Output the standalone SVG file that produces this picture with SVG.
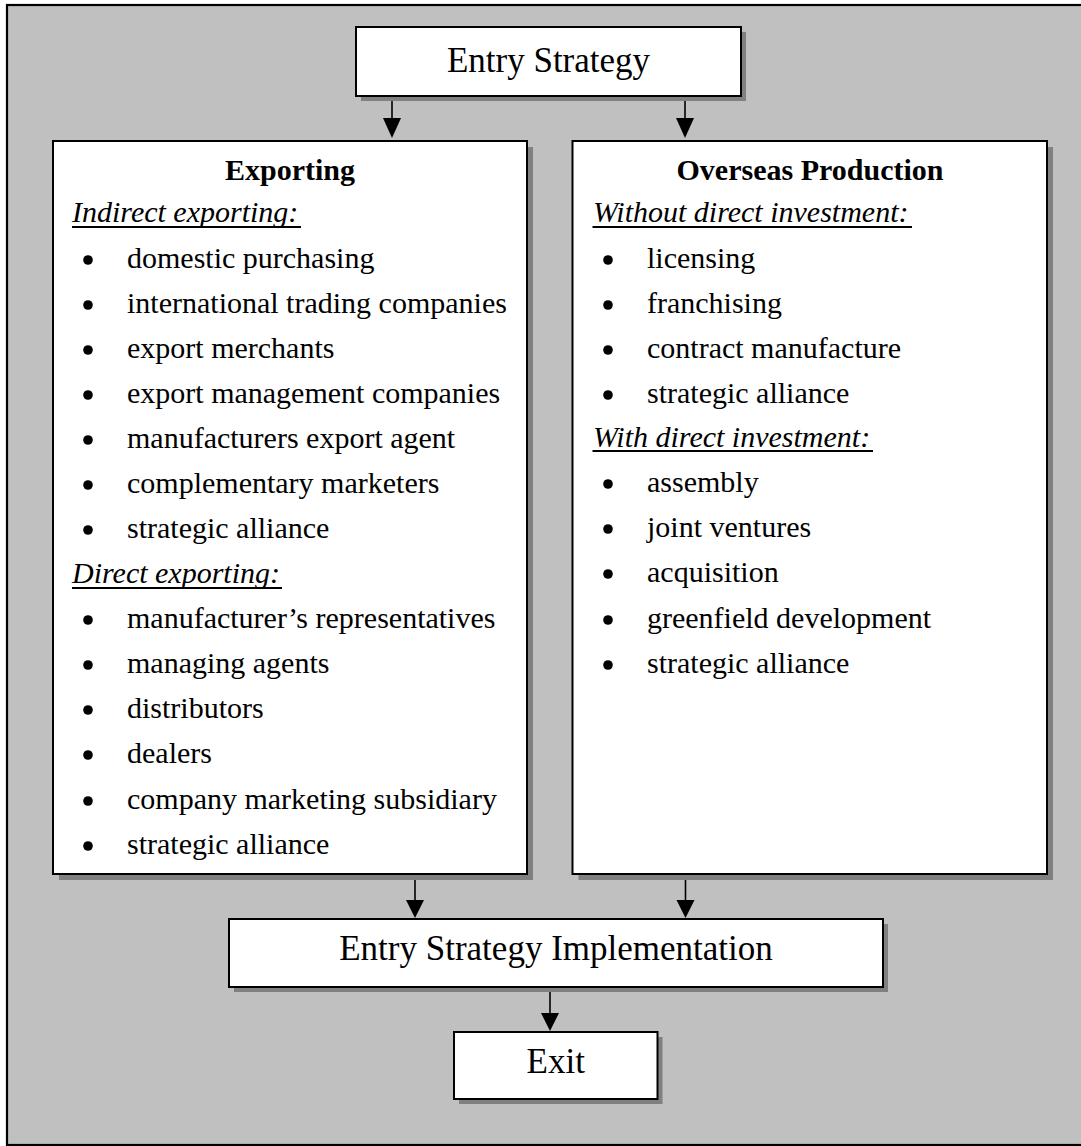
<svg xmlns="http://www.w3.org/2000/svg" width="1081" height="1146" viewBox="0 0 1081 1146">
  <style>
    .shadow { fill: #808080; }
    .box { fill: #ffffff; stroke: #000000; stroke-width: 2; }
    .big { font-family: "Liberation Serif", "Times New Roman", serif; font-size: 35px; fill: #000; text-anchor: middle; }
    .title { font-family: "Liberation Serif", "Times New Roman", serif; font-size: 30px; font-weight: bold; fill: #000; text-anchor: middle; }
    .head { font-family: "Liberation Serif", "Times New Roman", serif; font-size: 30px; font-style: italic; fill: #000; }
    .item { font-family: "Liberation Serif", "Times New Roman", serif; font-size: 30px; fill: #000; }
    .ul { stroke: #000; stroke-width: 2; }
    .conn { stroke: #000; stroke-width: 1.6; fill: none; }
    .head-arrow { fill: #000; }
  </style>
  <defs>
    <circle id="bullet" r="4.8" fill="#000"/>
  </defs>

  <rect x="7" y="5" width="1080" height="1140" fill="#c0c0c0" stroke="#000" stroke-width="2.2"/>

  <g id="connectors">
    <line class="conn" x1="392" y1="97" x2="392" y2="120"/>
    <polygon class="head-arrow" points="383,118 401,118 392,138"/>
    <line class="conn" x1="685" y1="97" x2="685" y2="120"/>
    <polygon class="head-arrow" points="676,118 694,118 685,138"/>
    <line class="conn" x1="415" y1="875" x2="415" y2="902"/>
    <polygon class="head-arrow" points="406,900 424,900 415,918"/>
    <line class="conn" x1="685.5" y1="875" x2="685.5" y2="902"/>
    <polygon class="head-arrow" points="676.5,900 694.5,900 685.5,918"/>
    <line class="conn" x1="550" y1="988" x2="550" y2="1015"/>
    <polygon class="head-arrow" points="541,1013 559,1013 550,1031"/>
  </g>

  <g id="entry-strategy">
    <rect class="shadow" x="361" y="32" width="385" height="69"/>
    <rect class="box" x="356" y="27" width="385" height="69"/>
    <text class="big" x="548.5" y="72">Entry Strategy</text>
  </g>

  <g id="exporting">
    <rect class="shadow" x="59" y="147" width="474" height="733"/>
    <rect class="box" x="53" y="141" width="474" height="733"/>
    <text class="title" x="290" y="180">Exporting</text>
    <text class="head" x="72" y="222">Indirect exporting:</text>
    <line class="ul" x1="72" y1="227" x2="301" y2="227"/>
    <use href="#bullet" x="88" y="260"/>
    <text class="item" x="127" y="268">domestic purchasing</text>
    <use href="#bullet" x="88" y="305"/>
    <text class="item" x="127" y="313">international trading companies</text>
    <use href="#bullet" x="88" y="350"/>
    <text class="item" x="127" y="358">export merchants</text>
    <use href="#bullet" x="88" y="395"/>
    <text class="item" x="127" y="403">export management companies</text>
    <use href="#bullet" x="88" y="440"/>
    <text class="item" x="127" y="448">manufacturers export agent</text>
    <use href="#bullet" x="88" y="485"/>
    <text class="item" x="127" y="493">complementary marketers</text>
    <use href="#bullet" x="88" y="530"/>
    <text class="item" x="127" y="538">strategic alliance</text>
    <text class="head" x="72" y="583">Direct exporting:</text>
    <line class="ul" x1="72" y1="588" x2="282" y2="588"/>
    <use href="#bullet" x="88" y="620"/>
    <text class="item" x="127" y="628">manufacturer’s representatives</text>
    <use href="#bullet" x="88" y="665"/>
    <text class="item" x="127" y="673">managing agents</text>
    <use href="#bullet" x="88" y="710"/>
    <text class="item" x="127" y="718">distributors</text>
    <use href="#bullet" x="88" y="755"/>
    <text class="item" x="127" y="763">dealers</text>
    <use href="#bullet" x="88" y="801"/>
    <text class="item" x="127" y="809">company marketing subsidiary</text>
    <use href="#bullet" x="88" y="846"/>
    <text class="item" x="127" y="854">strategic alliance</text>
  </g>

  <g id="overseas-production">
    <rect class="shadow" x="578.5" y="147" width="474.5" height="733"/>
    <rect class="box" x="572.5" y="141" width="474.5" height="733"/>
    <text class="title" x="810" y="180">Overseas Production</text>
    <text class="head" x="593" y="222">Without direct investment:</text>
    <line class="ul" x1="592.5" y1="227" x2="912" y2="227"/>
    <use href="#bullet" x="608" y="260"/>
    <text class="item" x="647" y="268">licensing</text>
    <use href="#bullet" x="608" y="305"/>
    <text class="item" x="647" y="313">franchising</text>
    <use href="#bullet" x="608" y="350"/>
    <text class="item" x="647" y="358">contract manufacture</text>
    <use href="#bullet" x="608" y="395"/>
    <text class="item" x="647" y="403">strategic alliance</text>
    <text class="head" x="593" y="447">With direct investment:</text>
    <line class="ul" x1="592.5" y1="451" x2="873" y2="451"/>
    <use href="#bullet" x="608" y="484"/>
    <text class="item" x="647" y="492">assembly</text>
    <use href="#bullet" x="608" y="529"/>
    <text class="item" x="647" y="537">joint ventures</text>
    <use href="#bullet" x="608" y="574"/>
    <text class="item" x="647" y="582">acquisition</text>
    <use href="#bullet" x="608" y="620"/>
    <text class="item" x="647" y="628">greenfield development</text>
    <use href="#bullet" x="608" y="665"/>
    <text class="item" x="647" y="673">strategic alliance</text>
  </g>

  <g id="entry-strategy-implementation">
    <rect class="shadow" x="234" y="924" width="654" height="68"/>
    <rect class="box" x="229" y="919" width="654" height="68"/>
    <text class="big" x="556" y="960">Entry Strategy Implementation</text>
  </g>

  <g id="exit">
    <rect class="shadow" x="459" y="1037" width="203.5" height="67"/>
    <rect class="box" x="454" y="1032" width="203.5" height="67"/>
    <text class="big" x="555.7" y="1073">Exit</text>
  </g>
</svg>
